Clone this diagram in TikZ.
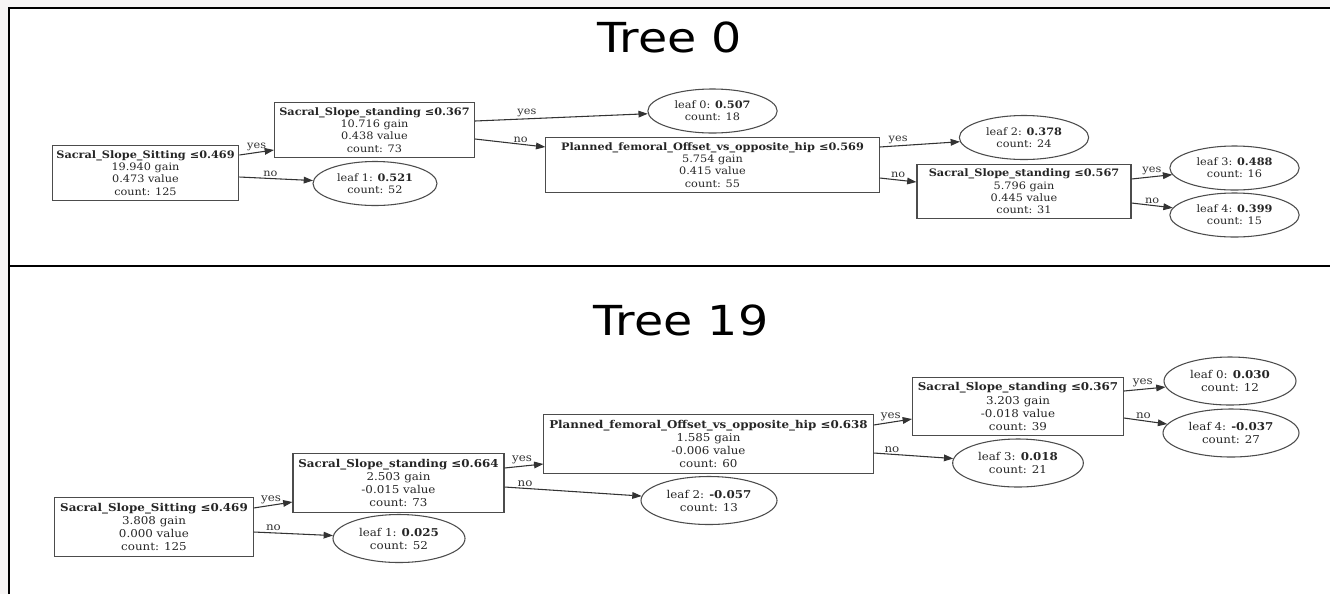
\documentclass[tikz,border=0pt]{standalone}
\usepackage{fontspec}
\usepackage{tikz}
\usetikzlibrary{shapes.geometric,arrows.meta,calc}
\newfontfamily\nodefont[FakeStretch=1.1]{DejaVu Serif}
\newfontfamily\titlefont[FakeStretch=1.15]{DejaVu Sans}
\definecolor{pagegray}{HTML}{F7F5F5}

\tikzset{
  split/.style={draw=black!70, line width=0.8pt, rectangle, align=center,
    inner xsep=4pt, inner ysep=1pt, minimum height=41pt, text=black!85},
  leaf/.style={draw=black!70, line width=0.8pt, ellipse, align=center,
    inner sep=0pt, minimum width=97pt, minimum height=33pt, text=black!85},
  edge/.style={draw=black!80, line width=0.8pt, -{Triangle[length=7pt,width=5pt]}},
  lbl/.style={above, inner sep=1pt, text=black!80},
  title/.style={font=\titlefont\fontsize{31}{36}\selectfont},
  small/.style={font=\nodefont\fontsize{7.7}{9.2}\selectfont},
  large/.style={font=\nodefont\fontsize{8.1}{9.8}\selectfont}
}

\begin{document}
\begin{tikzpicture}[x=0.75pt,y=-0.75pt]
\useasboundingbox (0,0) rectangle (1330,594);
\fill[pagegray] (0,0) rectangle (1330,594);
\fill[white] (9,8) rectangle (1330,594);
\draw[line width=1.5pt] (9,594) -- (9,8) -- (1330,8);
\draw[line width=1.5pt] (9,266) -- (1330,266);

% Tree 0
\node[title] (title0) at (670,37) {Tree 0};
\begin{scope}[every node/.append style={small}]
\node[split, minimum width=140pt, inner xsep=3pt] (t0root) at (145.5,173) {\textbf{Sacral\_Slope\_Sitting ≤0.469}\\19.940 gain\\0.473 value\\count: 125};
\node[split, minimum width=150pt, inner xsep=3pt] (t0a) at (374.5,130) {\textbf{Sacral\_Slope\_standing ≤0.367}\\10.716 gain\\0.438 value\\count: 73};
\node[leaf, minimum width=93pt] (t0leaf1) at (375,183.5) {leaf 1: \textbf{0.521}\\count: 52};
\node[leaf] (t0leaf0) at (712.5,111) {leaf 0: \textbf{0.507}\\count: 18};
\node[split, minimum width=250pt] (t0p) at (712.5,165) {\textbf{Planned\_femoral\_Offset\_vs\_opposite\_hip ≤0.569}\\5.754 gain\\0.415 value\\count: 55};
\node[leaf] (t0leaf2) at (1024,137.5) {leaf 2: \textbf{0.378}\\count: 24};
\node[split, minimum width=160.5pt] (t0b) at (1024,191.5) {\textbf{Sacral\_Slope\_standing ≤0.567}\\5.796 gain\\0.445 value\\count: 31};
\node[leaf] (t0leaf3) at (1234.5,168) {leaf 3: \textbf{0.488}\\count: 16};
\node[leaf] (t0leaf4) at (1234.5,215) {leaf 4: \textbf{0.399}\\count: 15};

\draw[edge] ($(t0root.east)+(0,-18)$) -- node[lbl,pos=0.5]{yes} ($(t0a.west)+(0,20)$);
\draw[edge] ($(t0root.east)+(0,4)$) -- node[lbl,pos=0.42]{no} (t0leaf1);
\draw[edge] ($(t0a.east)+(0,-9)$) -- node[lbl,pos=0.3]{yes} (t0leaf0);
\draw[edge] ($(t0a.east)+(0,9)$) -- node[lbl,pos=0.65]{no} ($(t0p.west)+(0,-18)$);
\draw[edge] ($(t0p.east)+(0,-18)$) -- node[lbl,pos=0.23]{yes} (t0leaf2);
\draw[edge] ($(t0p.east)+(0,13)$) -- node[lbl,pos=0.5]{no} ($(t0b.west)+(0,-9.5)$);
\draw[edge] ($(t0b.east)+(0,-12.5)$) -- node[lbl,pos=0.5]{yes} (t0leaf3);
\draw[edge] ($(t0b.east)+(0,11.5)$) -- node[lbl,pos=0.5]{no} (t0leaf4);
\end{scope}

% Tree 19
\node[title] (title19) at (681,320) {Tree 19};
\begin{scope}[every node/.append style={large}]
\node[split, minimum height=44pt] (t19root) at (154,527) {\textbf{Sacral\_Slope\_Sitting ≤0.469}\\3.808 gain\\0.000 value\\count: 125};
\node[split, minimum height=44pt] (t19a) at (398.5,483) {\textbf{Sacral\_Slope\_standing ≤0.664}\\2.503 gain\\-0.015 value\\count: 73};
\node[leaf, minimum width=99pt, minimum height=36pt] (t19leaf1) at (399,538.5) {leaf 1: \textbf{0.025}\\count: 52};
\node[split, minimum height=44pt] (t19p) at (708.5,444) {\textbf{Planned\_femoral\_Offset\_vs\_opposite\_hip ≤0.638}\\1.585 gain\\-0.006 value\\count: 60};
\node[leaf, minimum width=102pt, minimum height=36pt] (t19leaf2) at (709,500.5) {leaf 2: \textbf{-0.057}\\count: 13};
\node[split, minimum height=44pt] (t19b) at (1018,406.5) {\textbf{Sacral\_Slope\_standing ≤0.367}\\3.203 gain\\-0.018 value\\count: 39};
\node[leaf, minimum width=98pt, minimum height=36pt] (t19leaf3) at (1018,463) {leaf 3: \textbf{0.018}\\count: 21};
\node[leaf, minimum width=99pt, minimum height=36pt] (t19leaf0) at (1230,381) {leaf 0: \textbf{0.030}\\count: 12};
\node[leaf, minimum width=102pt, minimum height=36pt] (t19leaf4) at (1231,433) {leaf 4: \textbf{-0.037}\\count: 27};

\draw[edge] ($(t19root.east)+(0,-19)$) -- node[lbl,pos=0.45]{yes} ($(t19a.west)+(0,19)$);
\draw[edge] ($(t19root.east)+(0,5)$) -- node[lbl,pos=0.25]{no} (t19leaf1);
\draw[edge] ($(t19a.east)+(0,-15)$) -- node[lbl,pos=0.45]{yes} ($(t19p.west)+(0,20)$);
\draw[edge] ($(t19a.east)+(0,4)$) -- node[lbl,pos=0.15]{no} (t19leaf2);
\draw[edge] ($(t19p.east)+(0,-19)$) -- node[lbl,pos=0.45]{yes} ($(t19b.west)+(0,12.5)$);
\draw[edge] ($(t19p.east)+(0,9)$) -- node[lbl,pos=0.23]{no} (t19leaf3);
\draw[edge] ($(t19b.east)+(0,-15.5)$) -- node[lbl,pos=0.45]{yes} (t19leaf0);
\draw[edge] ($(t19b.east)+(0,11.5)$) -- node[lbl,pos=0.45]{no} (t19leaf4);
\end{scope}
\end{tikzpicture}
\end{document}
